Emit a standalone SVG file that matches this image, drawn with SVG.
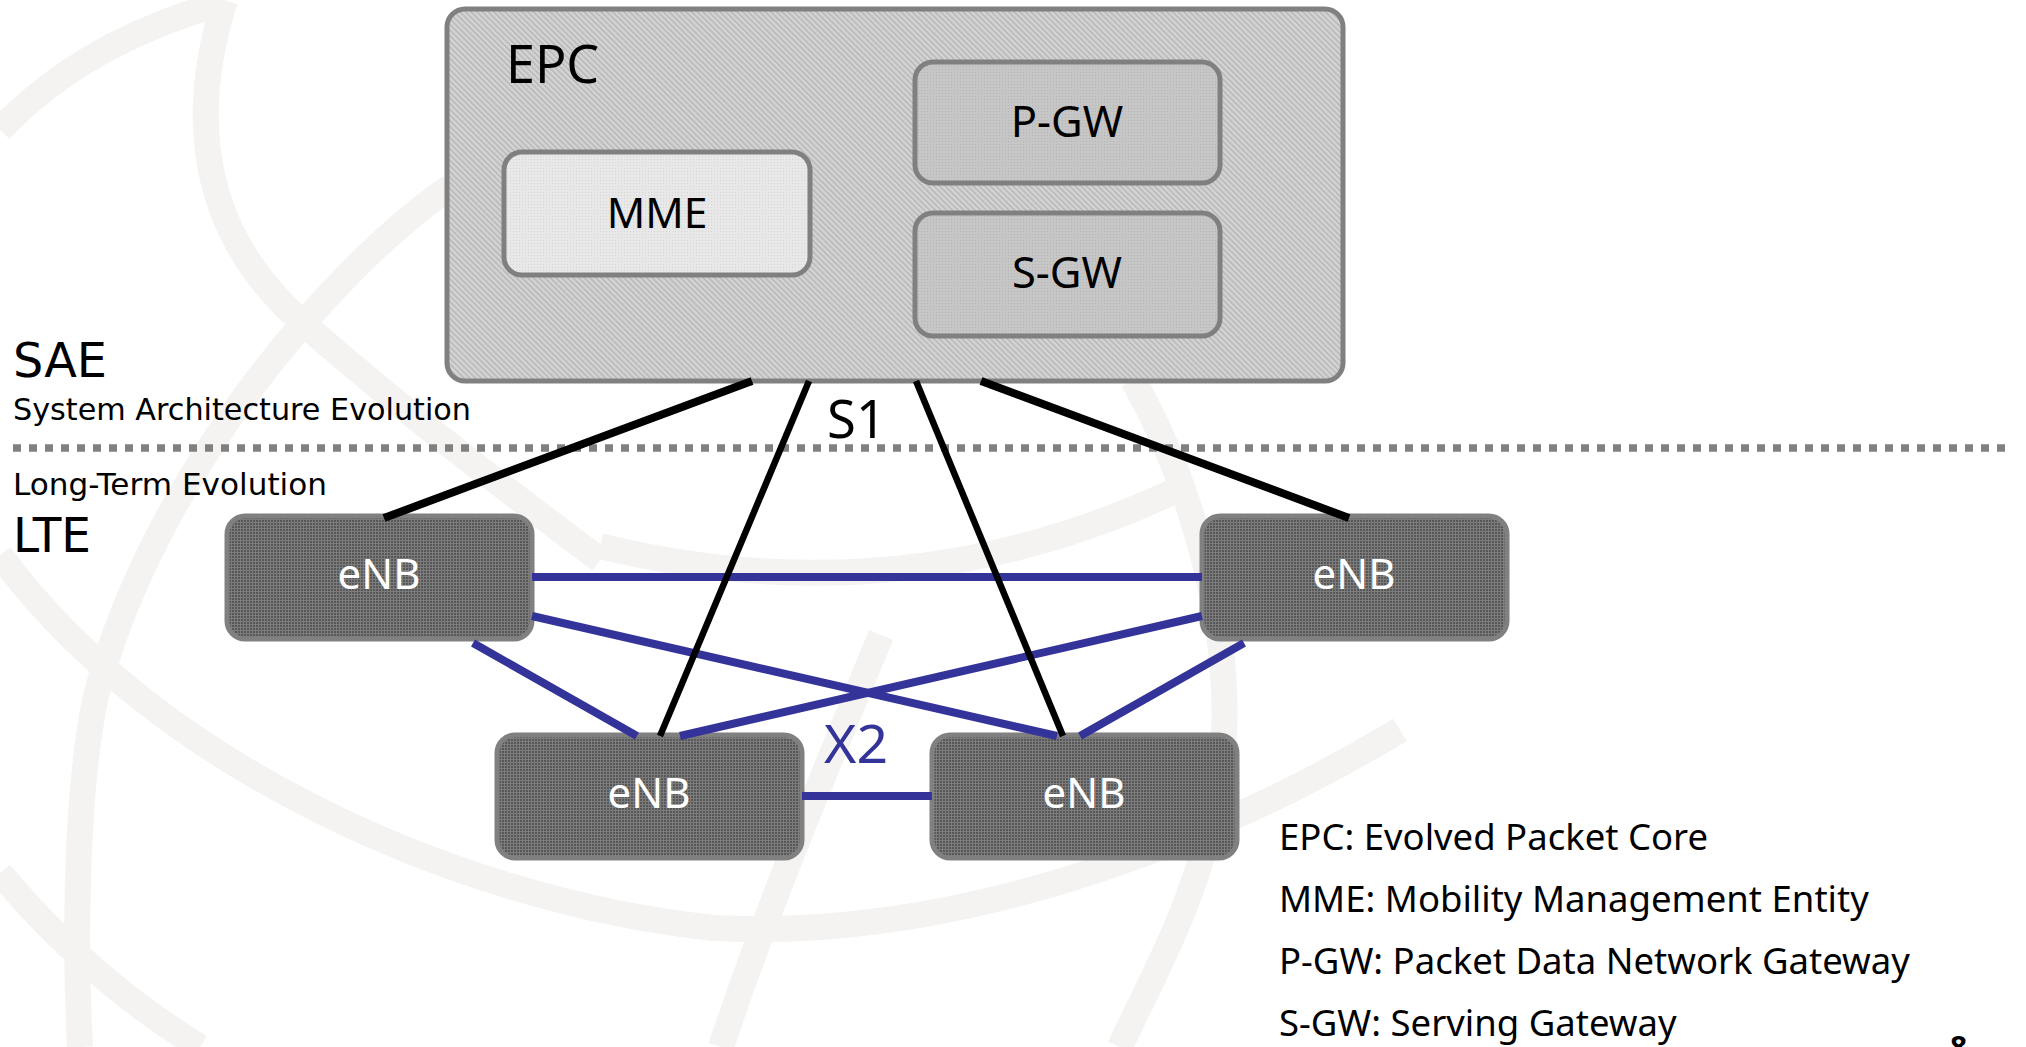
<svg xmlns="http://www.w3.org/2000/svg" width="2026" height="1047" viewBox="0 0 2026 1047">
<style>
.wm{fill:none;stroke:#f4f3f1;stroke-width:26;stroke-linecap:butt}
.box{stroke:#808080;stroke-width:5}
.t{font-family:"Noto Sans","Open Sans","DejaVu Sans",sans-serif;fill:#000}
.side{font-family:"DejaVu Sans","Noto Sans",sans-serif;fill:#000}
.c{text-anchor:middle}
.enbt{font-family:"Noto Sans","Open Sans","DejaVu Sans",sans-serif;fill:#fff;font-size:42px;text-anchor:middle}
.s1{stroke:#000;fill:none}
.x2{stroke:#333399;fill:none;stroke-width:8}
.lg{font-size:36.5px}
</style>
<defs>
<pattern id="hatch" width="4" height="4" patternUnits="userSpaceOnUse" patternTransform="rotate(-45)">
<rect width="4" height="4" fill="#d4d4d4"/><rect width="1.5" height="4" fill="#b6b6b6"/>
</pattern>
<pattern id="dotl" width="3" height="3" patternUnits="userSpaceOnUse">
<rect width="3" height="3" fill="#e8e8e8"/><rect width="1" height="1" fill="#d6d6d6"/>
</pattern>
<pattern id="dotm" width="3" height="3" patternUnits="userSpaceOnUse">
<rect width="3" height="3" fill="#c6c6c6"/><rect width="1" height="1" fill="#b4b4b4"/>
</pattern>
<pattern id="grid" width="3" height="3" patternUnits="userSpaceOnUse">
<rect width="3" height="3" fill="#7c7c7c"/><rect x="1" y="1" width="2" height="2" fill="#575757"/>
</pattern>
</defs>
<rect width="2026" height="1047" fill="#fff"/>
<g id="watermark">
<path class="wm" d="M0,130 Q80,45 215,5"/>
<path class="wm" d="M225,0 C190,110 195,230 305,325 C420,425 520,500 600,560"/>
<path class="wm" d="M450,187 C330,270 150,480 95,700 C75,800 75,950 80,1047"/>
<path class="wm" d="M0,555 C150,760 450,900 714,928 C950,940 1200,850 1400,730"/>
<path class="wm" d="M0,873 Q90,980 200,1047"/>
<path class="wm" d="M1133,380 C1190,480 1240,640 1220,780 C1200,900 1150,980 1120,1047"/>
<path class="wm" d="M881,635 C830,760 770,900 721,1047"/>
<path class="wm" d="M600,546 Q900,620 1177,490"/>
</g>
<line x1="13" y1="448" x2="2013" y2="448" stroke="#808080" stroke-width="7.5" stroke-dasharray="8 8"/>
<g id="labels">
<text class="side" x="13" y="377" font-size="48" textLength="94" lengthAdjust="spacingAndGlyphs">SAE</text>
<text class="side" x="13" y="420" font-size="30" textLength="458" lengthAdjust="spacingAndGlyphs">System Architecture Evolution</text>
<text class="side" x="13" y="495" font-size="30" textLength="314" lengthAdjust="spacingAndGlyphs">Long-Term Evolution</text>
<text class="side" x="13" y="552" font-size="48" textLength="78" lengthAdjust="spacingAndGlyphs">LTE</text>
</g>
<g id="EPC">
<rect class="box" x="447" y="9" width="896" height="372" rx="18" fill="url(#hatch)"/>
<text class="t" x="506" y="83" font-size="52">EPC</text>
</g>
<g id="MME">
<rect class="box" x="504" y="152" width="306" height="123" rx="18" fill="url(#dotl)"/>
<text class="t c" x="657" y="228" font-size="42.5">MME</text>
</g>
<g id="PGW">
<rect class="box" x="915" y="62" width="305" height="121" rx="18" fill="url(#dotm)"/>
<text class="t c" x="1067" y="137" font-size="43.5">P-GW</text>
</g>
<g id="SGW">
<rect class="box" x="915" y="213" width="305" height="123" rx="18" fill="url(#dotm)"/>
<text class="t c" x="1067" y="288" font-size="43.5">S-GW</text>
</g>
<g id="eNB1">
<rect class="box" x="227" y="516" width="305" height="123" rx="18" fill="url(#grid)"/>
<text class="enbt" x="379" y="589">eNB</text>
</g>
<g id="eNB2">
<rect class="box" x="1202" y="516" width="305" height="123" rx="18" fill="url(#grid)"/>
<text class="enbt" x="1354" y="589">eNB</text>
</g>
<g id="eNB3">
<rect class="box" x="497" y="735" width="305" height="123" rx="18" fill="url(#grid)"/>
<text class="enbt" x="649" y="808">eNB</text>
</g>
<g id="eNB4">
<rect class="box" x="932" y="735" width="305" height="123" rx="18" fill="url(#grid)"/>
<text class="enbt" x="1084" y="808">eNB</text>
</g>
<g id="connectors">
<line class="x2" x1="532" y1="577" x2="1202" y2="577" stroke-width="9"/>
<line class="x2" x1="532" y1="616" x2="1057" y2="736"/>
<line class="x2" x1="1202" y1="616" x2="680" y2="736"/>
<line class="x2" x1="473" y1="643" x2="637" y2="736"/>
<line class="x2" x1="1244" y1="643" x2="1080" y2="736"/>
<line class="x2" x1="802" y1="796" x2="932" y2="796" stroke-width="9"/>
<line class="s1" x1="752" y1="381" x2="384" y2="518" stroke-width="8"/>
<line class="s1" x1="809" y1="381" x2="660" y2="736" stroke-width="6.5"/>
<line class="s1" x1="916" y1="381" x2="1063" y2="736" stroke-width="6.5"/>
<line class="s1" x1="981" y1="381" x2="1349" y2="518" stroke-width="8"/>
<text class="t" x="827" y="438" font-size="52" textLength="59" lengthAdjust="spacingAndGlyphs">S1</text>
<text class="t" x="824" y="763" font-size="52" textLength="64" lengthAdjust="spacingAndGlyphs" style="fill:#333399">X2</text>
</g>
<g id="legend">
<text class="t lg" x="1279" y="850">EPC: Evolved Packet Core</text>
<text class="t lg" x="1279" y="912">MME: Mobility Management Entity</text>
<text class="t lg" x="1279" y="974">P-GW: Packet Data Network Gateway</text>
<text class="t lg" x="1279" y="1036">S-GW: Serving Gateway</text>
<text class="t" x="1950" y="1058" font-size="30" font-weight="bold">8</text>
</g>
</svg>
